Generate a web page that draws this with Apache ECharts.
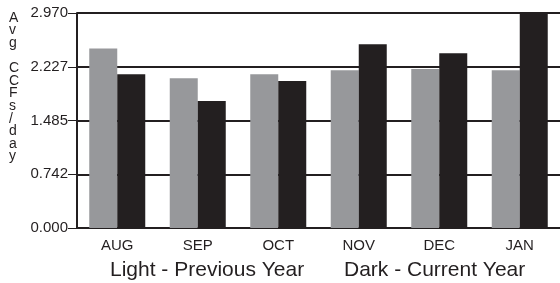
<!DOCTYPE html>
<html>
<head>
<meta charset="utf-8">
<script src="https://cdn.jsdelivr.net/npm/echarts@6/dist/echarts.min.js"></script>
<style>
  html, body { margin: 0; padding: 0; background: #fff; }
  #chart { width: 560px; height: 283px; }
</style>
</head>
<body>
<div id="chart"></div>
<script>
// data
var months = ['AUG', 'SEP', 'OCT', 'NOV', 'DEC', 'JAN'];
var previousYear = [2.48, 2.07, 2.125, 2.18, 2.195, 2.18];
var currentYear = [2.125, 1.753, 2.03, 2.54, 2.415, 2.97];
var yTickLabels = ['0.000', '0.742', '1.485', '2.227', '2.970'];
var yMax = 2.97;
var yStep = yMax / 4;

var ink = '#231f20';
var font = 'Arial, "Liberation Sans", sans-serif';

var chart = echarts.init(document.getElementById('chart'));
var option = {
  animation: false,
  grid: { left: 77, top: 13, width: 485, height: 215, containLabel: false },
  xAxis: {
    type: 'category',
    data: months,
    axisLine: { lineStyle: { color: ink, width: 2 } },
    axisTick: { alignWithLabel: true, length: 5, lineStyle: { color: ink, width: 1 } },
    axisLabel: { color: ink, fontSize: 15, fontFamily: font, margin: 10 },
    splitLine: { show: false }
  },
  yAxis: {
    type: 'value',
    min: 0,
    max: yMax,
    interval: yStep,
    axisLine: { show: true, lineStyle: { color: ink, width: 2 } },
    axisTick: { show: true, length: 9, lineStyle: { color: ink, width: 1 } },
    axisLabel: {
      color: ink, fontSize: 15, fontFamily: font, margin: 9,
      formatter: function (v) { return yTickLabels[Math.round(v / yStep)]; }
    },
    splitLine: { show: true, lineStyle: { color: ink, width: 2 } }
  },
  series: [
    {
      name: 'Light - Previous Year',
      type: 'bar',
      data: previousYear,
      barWidth: 28,
      barGap: '0%',
      itemStyle: { color: '#97989b' }
    },
    {
      name: 'Dark - Current Year',
      type: 'bar',
      data: currentYear,
      barWidth: 28,
      itemStyle: { color: ink }
    }
  ],
  graphic: [
    {
      type: 'text', left: 9, top: 11,
      style: {
        text: 'A\nv\ng\n \nC\nC\nF\ns\n/\nd\na\ny',
        fill: ink, font: '14px ' + font, align: 'center', lineHeight: 12.6
      }
    },
    {
      type: 'text', left: 110, top: 260,
      style: { text: 'Light - Previous Year', fill: ink, font: '21px ' + font }
    },
    {
      type: 'text', left: 344, top: 260,
      style: { text: 'Dark - Current Year', fill: ink, font: '21px ' + font }
    }
  ]
};
chart.setOption(option);
</script>
</body>
</html>
